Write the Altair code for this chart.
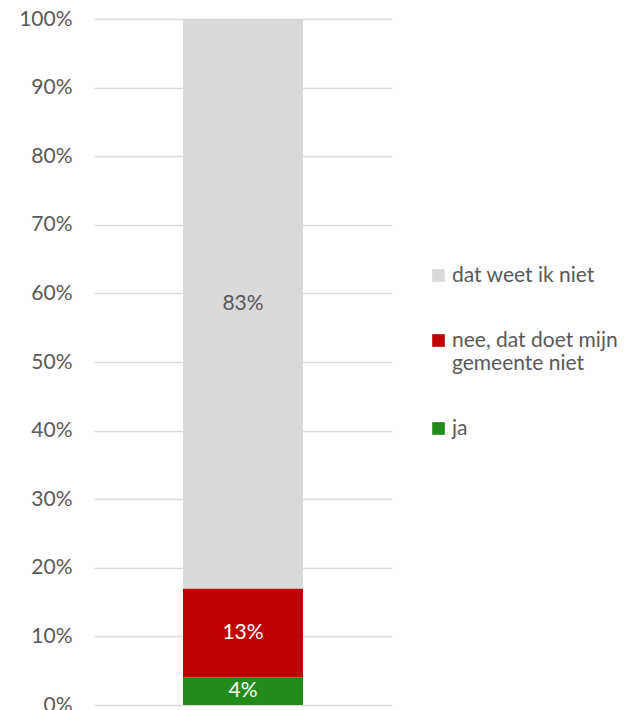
import altair as alt
import pandas as pd

categories = ["ja", "nee, dat doet mijn gemeente niet", "dat weet ik niet"]
values = [4, 13, 83]
colors = ["#228B1A", "#C00000", "#D9D9D9"]
label_colors = ["#FFFFFF", "#FFFFFF", "#595959"]
order = [0, 1, 2]

df = pd.DataFrame({
    "group": ["x"] * 3,
    "cat": categories,
    "val": values,
    "ord": order,
    "lab": [f"{v}%" for v in values],
    "lcol": label_colors,
})

font = "Lato"
fs = 21

base = alt.Chart(df).encode(
    x=alt.X("group:N", axis=None, scale=alt.Scale(paddingInner=0, paddingOuter=0)),
)

bars = base.mark_bar(size=120).encode(
    y=alt.Y("val:Q", stack="zero",
            scale=alt.Scale(domain=[0, 100], nice=False),
            axis=alt.Axis(values=list(range(0, 101, 10)), labelExpr="datum.value + '%'",
                          title=None, domain=False, ticks=False, labelPadding=22,
                          labelFontSize=fs, labelColor="#595959", labelFont=font,
                          gridColor="#D9D9D9", gridWidth=1.5)),
    color=alt.Color("cat:N", scale=alt.Scale(domain=categories[::-1], range=colors[::-1]),
                    legend=alt.Legend(title=None, orient="none", legendX=334, legendY=246,
                                      symbolType="square", symbolSize=160, symbolStrokeWidth=0,
                                      labelFontSize=fs, labelColor="#595959", labelFont=font,
                                      labelLimit=300, rowPadding=43, labelOffset=3,
                                      labelExpr="datum.label == 'nee, dat doet mijn gemeente niet' ? ['nee, dat doet mijn', 'gemeente niet'] : datum.label")),
    order=alt.Order("ord:Q"),
)

texts = base.mark_text(fontSize=fs, font=font).encode(
    y=alt.Y("val:Q", stack="zero", bandPosition=0.5),
    text="lab:N",
    color=alt.Color("lcol:N", scale=None),
    order=alt.Order("ord:Q"),
)

chart = alt.layer(bars, texts).properties(
    width=298, height=686,
    padding={"left": 86, "top": 11, "right": 234, "bottom": 5},
    autosize=alt.AutoSizeParams(type="none"),
).configure_view(stroke=None)

chart.save("out.html", embed_options={"renderer": "svg", "actions": False})
